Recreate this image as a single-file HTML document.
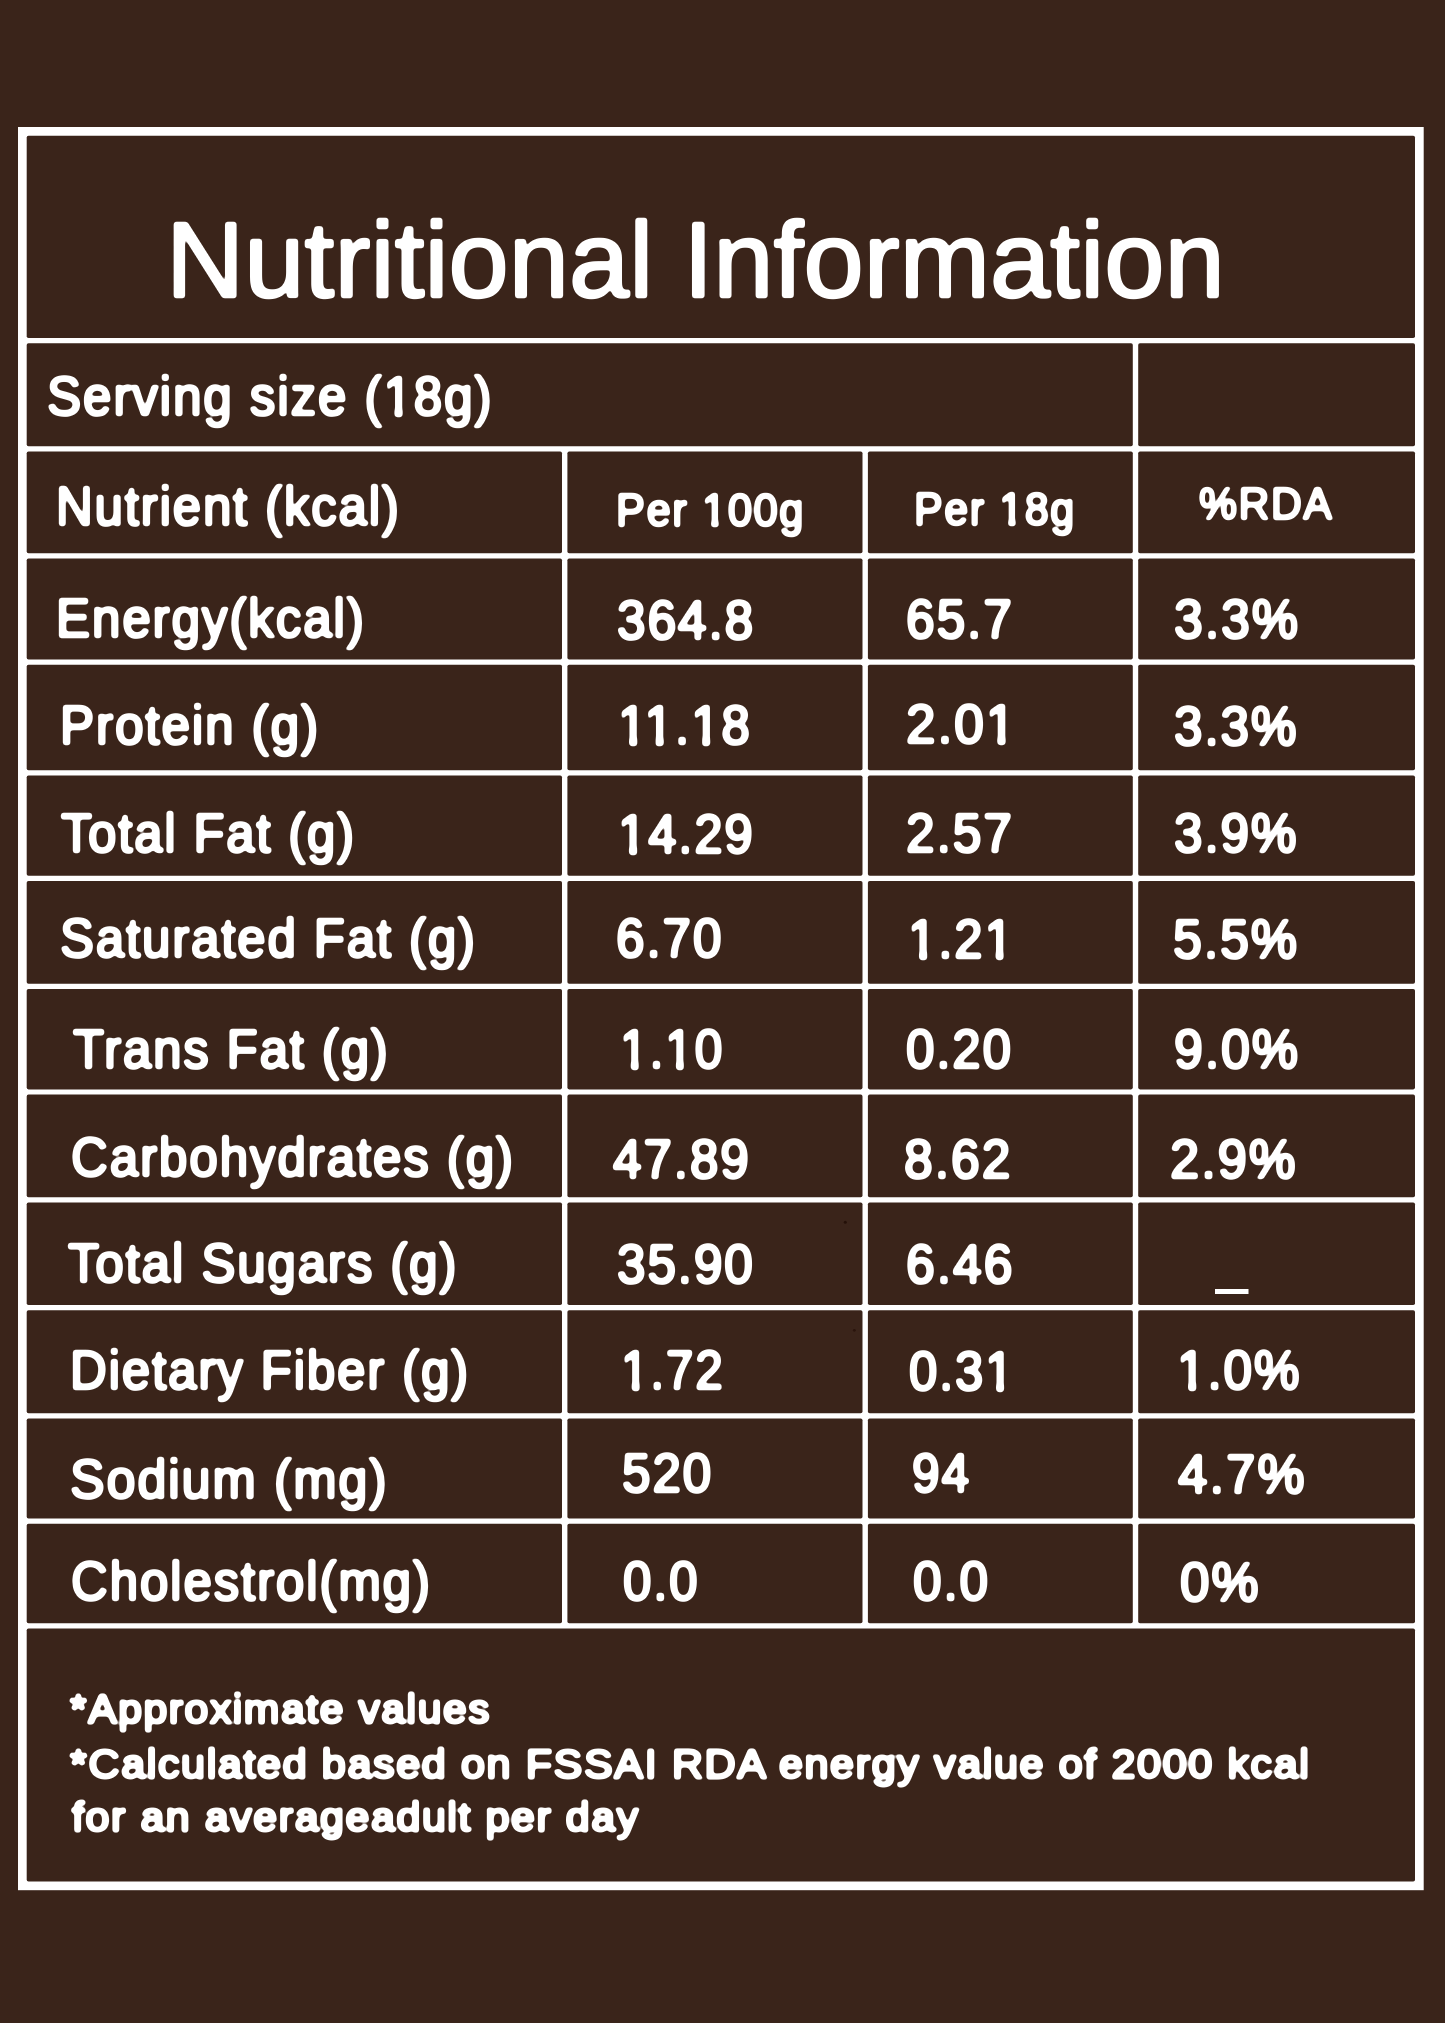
<!DOCTYPE html>
<html><head><meta charset="utf-8"><title>Nutritional Information</title>
<style>
html,body{margin:0;padding:0;}
body{width:1445px;height:2023px;background:#3a241a;position:relative;overflow:hidden;font-family:"Liberation Sans",sans-serif;color:#ffffff;}
.g{position:absolute;left:0;top:0;}
.tx{position:absolute;left:0;top:0;width:1445px;height:2023px;filter:url(#ink);}
.k{margin-left:-0.0742em;}
.o::after{content:"";position:absolute;background:#ffffff;left:calc(0.2515em - 1px);width:calc(0.0884em + 2px);top:calc(0.7718em - 3px);height:calc(0.0747em + 4px);}
.o{display:inline-block;position:relative;clip-path:polygon(-0.2em -0.3em,1em -0.3em,1em calc(0.7718em - 2.4px),calc(0.3398em + 1.6px) calc(0.7718em - 2.4px),calc(0.3398em + 1.6px) 1.3em,calc(0.2515em - 1.6px) 1.3em,calc(0.2515em - 1.6px) calc(0.7718em - 2.4px),-0.2em calc(0.7718em - 2.4px));}
.t{position:absolute;white-space:pre;line-height:1;transform-origin:0 0;will-change:transform;-webkit-text-stroke-color:#ffffff;}

</style></head><body>
<svg class="g" width="1445" height="2023" viewBox="0 0 1445 2023" shape-rendering="geometricPrecision"><rect x="18.0" y="127.0" width="1405.70" height="1763.20" fill="#ffffff"/><g fill="#3a241a"><rect x="26.70" y="135.70" width="1388.30" height="202.30" rx="1.8"/><rect x="26.70" y="343.20" width="1106.10" height="103.00" rx="1.8"/><rect x="1138.20" y="343.20" width="276.80" height="103.00" rx="1.8"/><rect x="26.70" y="451.40" width="535.30" height="101.90" rx="1.8"/><rect x="567.40" y="451.40" width="295.10" height="101.90" rx="1.8"/><rect x="867.90" y="451.40" width="264.90" height="101.90" rx="1.8"/><rect x="1138.20" y="451.40" width="276.80" height="101.90" rx="1.8"/><rect x="26.70" y="558.50" width="535.30" height="101.00" rx="1.8"/><rect x="567.40" y="558.50" width="295.10" height="101.00" rx="1.8"/><rect x="867.90" y="558.50" width="264.90" height="101.00" rx="1.8"/><rect x="1138.20" y="558.50" width="276.80" height="101.00" rx="1.8"/><rect x="26.70" y="664.70" width="535.30" height="105.60" rx="1.8"/><rect x="567.40" y="664.70" width="295.10" height="105.60" rx="1.8"/><rect x="867.90" y="664.70" width="264.90" height="105.60" rx="1.8"/><rect x="1138.20" y="664.70" width="276.80" height="105.60" rx="1.8"/><rect x="26.70" y="775.50" width="535.30" height="100.30" rx="1.8"/><rect x="567.40" y="775.50" width="295.10" height="100.30" rx="1.8"/><rect x="867.90" y="775.50" width="264.90" height="100.30" rx="1.8"/><rect x="1138.20" y="775.50" width="276.80" height="100.30" rx="1.8"/><rect x="26.70" y="881.00" width="535.30" height="102.70" rx="1.8"/><rect x="567.40" y="881.00" width="295.10" height="102.70" rx="1.8"/><rect x="867.90" y="881.00" width="264.90" height="102.70" rx="1.8"/><rect x="1138.20" y="881.00" width="276.80" height="102.70" rx="1.8"/><rect x="26.70" y="988.90" width="535.30" height="100.50" rx="1.8"/><rect x="567.40" y="988.90" width="295.10" height="100.50" rx="1.8"/><rect x="867.90" y="988.90" width="264.90" height="100.50" rx="1.8"/><rect x="1138.20" y="988.90" width="276.80" height="100.50" rx="1.8"/><rect x="26.70" y="1094.60" width="535.30" height="102.70" rx="1.8"/><rect x="567.40" y="1094.60" width="295.10" height="102.70" rx="1.8"/><rect x="867.90" y="1094.60" width="264.90" height="102.70" rx="1.8"/><rect x="1138.20" y="1094.60" width="276.80" height="102.70" rx="1.8"/><rect x="26.70" y="1202.50" width="535.30" height="102.60" rx="1.8"/><rect x="567.40" y="1202.50" width="295.10" height="102.60" rx="1.8"/><rect x="867.90" y="1202.50" width="264.90" height="102.60" rx="1.8"/><rect x="1138.20" y="1202.50" width="276.80" height="102.60" rx="1.8"/><rect x="26.70" y="1310.30" width="535.30" height="103.00" rx="1.8"/><rect x="567.40" y="1310.30" width="295.10" height="103.00" rx="1.8"/><rect x="867.90" y="1310.30" width="264.90" height="103.00" rx="1.8"/><rect x="1138.20" y="1310.30" width="276.80" height="103.00" rx="1.8"/><rect x="26.70" y="1418.50" width="535.30" height="100.10" rx="1.8"/><rect x="567.40" y="1418.50" width="295.10" height="100.10" rx="1.8"/><rect x="867.90" y="1418.50" width="264.90" height="100.10" rx="1.8"/><rect x="1138.20" y="1418.50" width="276.80" height="100.10" rx="1.8"/><rect x="26.70" y="1523.80" width="535.30" height="99.50" rx="1.8"/><rect x="567.40" y="1523.80" width="295.10" height="99.50" rx="1.8"/><rect x="867.90" y="1523.80" width="264.90" height="99.50" rx="1.8"/><rect x="1138.20" y="1523.80" width="276.80" height="99.50" rx="1.8"/><rect x="26.70" y="1628.50" width="1388.30" height="253.00" rx="1.8"/></g><rect x="1215" y="1289" width="33.5" height="5" fill="#ffffff"/><circle cx="845.3" cy="1222.3" r="1.5" fill="#241008"/><circle cx="854.3" cy="1330.3" r="1.4" fill="#2a140c"/></svg>
<svg width="0" height="0" style="position:absolute"><filter id="ink" x="0" y="0" width="100%" height="100%" filterUnits="userSpaceOnUse" color-interpolation-filters="sRGB"><feGaussianBlur stdDeviation="1.6"/><feComponentTransfer result="b"><feFuncA type="linear" slope="4.0" intercept="-1.180"/></feComponentTransfer></filter></svg>
<div class="tx">
<div class="t" id="t0" style="left:166.20px;top:205.98px;font-size:108px;-webkit-text-stroke-width:1.8px;transform:scaleX(1.0020);">Nutritional Information</div>
<div class="t" id="t1" style="left:47.00px;top:369.24px;font-size:55px;-webkit-text-stroke-width:2.2px;letter-spacing:2.07px;transform:scaleX(0.9289);">Serving size (<span class="o">1</span>8g)</div>
<div class="t" id="t2" style="left:56.00px;top:479.24px;font-size:55px;-webkit-text-stroke-width:2.2px;letter-spacing:2.07px;transform:scaleX(0.9232);">Nutrient (kcal)</div>
<div class="t" id="t3" style="left:616.40px;top:487.06px;font-size:46px;-webkit-text-stroke-width:2px;letter-spacing:1.73px;transform:scaleX(0.9421);">Per <span class="o">1</span>00g</div>
<div class="t" id="t4" style="left:914.00px;top:486.36px;font-size:46px;-webkit-text-stroke-width:2px;letter-spacing:1.73px;transform:scaleX(0.9330);">Per <span class="o">1</span>8g</div>
<div class="t" id="t5" style="left:1199.00px;top:482.13px;font-size:44.5px;-webkit-text-stroke-width:2px;letter-spacing:1.67px;transform:scaleX(0.9590);">%RDA</div>
<div class="t" id="t6" style="left:56.00px;top:591.24px;font-size:55px;-webkit-text-stroke-width:2.2px;letter-spacing:2.07px;transform:scaleX(0.9285);">Energy(kcal)</div>
<div class="t" id="t7" style="left:617.40px;top:592.74px;font-size:55px;-webkit-text-stroke-width:2.2px;letter-spacing:2.07px;transform:scaleX(0.9335);">364.8</div>
<div class="t" id="t8" style="left:906.00px;top:592.24px;font-size:55px;-webkit-text-stroke-width:2.2px;letter-spacing:2.07px;transform:scaleX(0.9345);">65.7</div>
<div class="t" id="t9" style="left:1174.00px;top:592.24px;font-size:55px;-webkit-text-stroke-width:2.2px;letter-spacing:2.07px;transform:scaleX(0.9415);">3.3%</div>
<div class="t" id="t10" style="left:60.00px;top:698.24px;font-size:55px;-webkit-text-stroke-width:2.2px;letter-spacing:2.07px;transform:scaleX(0.9300);">Protein (g)</div>
<div class="t" id="t11" style="left:618.40px;top:697.74px;font-size:55px;-webkit-text-stroke-width:2.2px;letter-spacing:2.07px;transform:scaleX(0.9293);"><span class="o">1</span><span class="o k">1</span>.<span class="o">1</span>8</div>
<div class="t" id="t12" style="left:906.00px;top:697.24px;font-size:55px;-webkit-text-stroke-width:2.2px;letter-spacing:2.07px;transform:scaleX(0.9643);">2.0<span class="o">1</span></div>
<div class="t" id="t13" style="left:1174.00px;top:698.74px;font-size:55px;-webkit-text-stroke-width:2.2px;letter-spacing:2.07px;transform:scaleX(0.9300);">3.3%</div>
<div class="t" id="t14" style="left:61.00px;top:805.74px;font-size:55px;-webkit-text-stroke-width:2.2px;letter-spacing:2.07px;transform:scaleX(0.9205);">Total Fat (g)</div>
<div class="t" id="t15" style="left:618.40px;top:806.54px;font-size:55px;-webkit-text-stroke-width:2.2px;letter-spacing:2.07px;transform:scaleX(0.9229);"><span class="o">1</span>4.29</div>
<div class="t" id="t16" style="left:906.00px;top:806.24px;font-size:55px;-webkit-text-stroke-width:2.2px;letter-spacing:2.07px;transform:scaleX(0.9345);">2.57</div>
<div class="t" id="t17" style="left:1174.00px;top:806.24px;font-size:55px;-webkit-text-stroke-width:2.2px;letter-spacing:2.07px;transform:scaleX(0.9300);">3.9%</div>
<div class="t" id="t18" style="left:60.00px;top:910.74px;font-size:55px;-webkit-text-stroke-width:2.2px;letter-spacing:2.07px;transform:scaleX(0.9244);">Saturated Fat (g)</div>
<div class="t" id="t19" style="left:616.00px;top:911.24px;font-size:55px;-webkit-text-stroke-width:2.2px;letter-spacing:2.07px;transform:scaleX(0.9300);">6.70</div>
<div class="t" id="t20" style="left:908.00px;top:911.74px;font-size:55px;-webkit-text-stroke-width:2.2px;letter-spacing:2.07px;transform:scaleX(0.9250);"><span class="o">1</span>.2<span class="o">1</span></div>
<div class="t" id="t21" style="left:1173.00px;top:911.74px;font-size:55px;-webkit-text-stroke-width:2.2px;letter-spacing:2.07px;transform:scaleX(0.9415);">5.5%</div>
<div class="t" id="t22" style="left:73.00px;top:1021.94px;font-size:55px;-webkit-text-stroke-width:2.2px;letter-spacing:2.07px;transform:scaleX(0.9241);">Trans Fat (g)</div>
<div class="t" id="t23" style="left:620.00px;top:1021.74px;font-size:55px;-webkit-text-stroke-width:2.2px;letter-spacing:2.07px;transform:scaleX(0.9025);"><span class="o">1</span>.<span class="o">1</span>0</div>
<div class="t" id="t24" style="left:906.00px;top:1021.74px;font-size:55px;-webkit-text-stroke-width:2.2px;letter-spacing:2.07px;transform:scaleX(0.9256);">0.20</div>
<div class="t" id="t25" style="left:1174.00px;top:1021.74px;font-size:55px;-webkit-text-stroke-width:2.2px;letter-spacing:2.07px;transform:scaleX(0.9415);">9.0%</div>
<div class="t" id="t26" style="left:71.00px;top:1130.24px;font-size:55px;-webkit-text-stroke-width:2.2px;letter-spacing:2.07px;transform:scaleX(0.9279);">Carbohydrates (g)</div>
<div class="t" id="t27" style="left:613.00px;top:1131.94px;font-size:55px;-webkit-text-stroke-width:2.2px;letter-spacing:2.07px;transform:scaleX(0.9300);">47.89</div>
<div class="t" id="t28" style="left:904.00px;top:1131.74px;font-size:55px;-webkit-text-stroke-width:2.2px;letter-spacing:2.07px;transform:scaleX(0.9390);">8.62</div>
<div class="t" id="t29" style="left:1170.00px;top:1131.74px;font-size:55px;-webkit-text-stroke-width:2.2px;letter-spacing:2.07px;transform:scaleX(0.9531);">2.9%</div>
<div class="t" id="t30" style="left:68.00px;top:1236.24px;font-size:55px;-webkit-text-stroke-width:2.2px;letter-spacing:2.07px;transform:scaleX(0.9264);">Total Sugars (g)</div>
<div class="t" id="t31" style="left:617.00px;top:1236.74px;font-size:55px;-webkit-text-stroke-width:2.2px;letter-spacing:2.07px;transform:scaleX(0.9300);">35.90</div>
<div class="t" id="t32" style="left:906.00px;top:1236.74px;font-size:55px;-webkit-text-stroke-width:2.2px;letter-spacing:2.07px;transform:scaleX(0.9389);">6.46</div>
<div class="t" id="t33" style="left:70.00px;top:1342.94px;font-size:55px;-webkit-text-stroke-width:2.2px;letter-spacing:2.07px;transform:scaleX(0.9253);">Dietary Fiber (g)</div>
<div class="t" id="t34" style="left:621.00px;top:1343.24px;font-size:55px;-webkit-text-stroke-width:2.2px;letter-spacing:2.07px;transform:scaleX(0.8976);"><span class="o">1</span>.72</div>
<div class="t" id="t35" style="left:909.00px;top:1343.74px;font-size:55px;-webkit-text-stroke-width:2.2px;letter-spacing:2.07px;transform:scaleX(0.9202);">0.3<span class="o">1</span></div>
<div class="t" id="t36" style="left:1177.00px;top:1342.74px;font-size:55px;-webkit-text-stroke-width:2.2px;letter-spacing:2.07px;transform:scaleX(0.9300);"><span class="o">1</span>.0%</div>
<div class="t" id="t37" style="left:70.00px;top:1451.84px;font-size:55px;-webkit-text-stroke-width:2.2px;letter-spacing:2.07px;transform:scaleX(0.9435);">Sodium (mg)</div>
<div class="t" id="t38" style="left:622.00px;top:1446.24px;font-size:55px;-webkit-text-stroke-width:2.2px;letter-spacing:2.07px;transform:scaleX(0.9300);">520</div>
<div class="t" id="t39" style="left:912.20px;top:1446.24px;font-size:55px;-webkit-text-stroke-width:2.2px;letter-spacing:2.07px;transform:scaleX(0.9012);">94</div>
<div class="t" id="t40" style="left:1178.00px;top:1447.24px;font-size:55px;-webkit-text-stroke-width:2.2px;letter-spacing:2.07px;transform:scaleX(0.9605);">4.7%</div>
<div class="t" id="t41" style="left:71.00px;top:1554.34px;font-size:55px;-webkit-text-stroke-width:2.2px;letter-spacing:2.07px;transform:scaleX(0.9261);">Cholestrol(mg)</div>
<div class="t" id="t42" style="left:623.00px;top:1553.74px;font-size:55px;-webkit-text-stroke-width:2.2px;letter-spacing:2.07px;transform:scaleX(0.9237);">0.0</div>
<div class="t" id="t43" style="left:913.00px;top:1553.74px;font-size:55px;-webkit-text-stroke-width:2.2px;letter-spacing:2.07px;transform:scaleX(0.9300);">0.0</div>
<div class="t" id="t44" style="left:1180.00px;top:1554.74px;font-size:55px;-webkit-text-stroke-width:2.2px;letter-spacing:2.07px;transform:scaleX(0.9610);">0%</div>
<div class="t" id="t45" style="left:70.00px;top:1689.04px;font-size:40px;-webkit-text-stroke-width:2.3px;letter-spacing:1.51px;transform:scaleX(1.0648);">*Approximate values</div>
<div class="t" id="t46" style="left:70.00px;top:1743.84px;font-size:40px;-webkit-text-stroke-width:2.3px;letter-spacing:1.51px;transform:scaleX(1.0770);">*Calculated based on FSSAI RDA energy value of 2000 kcal</div>
<div class="t" id="t47" style="left:72.00px;top:1797.44px;font-size:40px;-webkit-text-stroke-width:2.3px;letter-spacing:1.51px;transform:scaleX(1.0713);">for an averageadult per day</div>
</div>
</body></html>
